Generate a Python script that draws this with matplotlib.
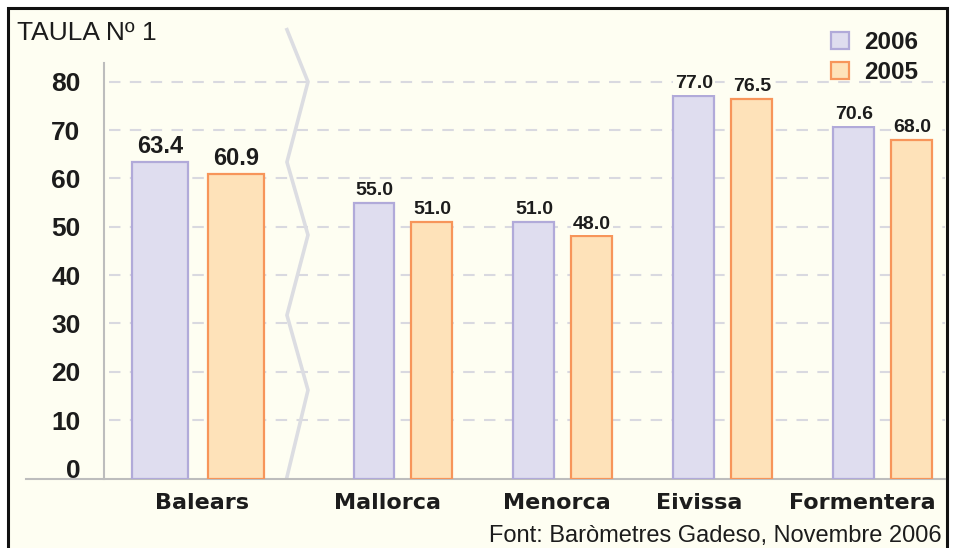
import matplotlib
matplotlib.use('Agg')
import matplotlib.pyplot as plt
import numpy as np
from matplotlib.patches import Rectangle

# dades de la taula
islands = ['Balears', 'Mallorca', 'Menorca', 'Eivissa', 'Formentera']
v2006 = [63.4, 55.0, 51.0, 77.0, 70.6]
v2005 = [60.9, 51.0, 48.0, 76.5, 68.0]
yticks = [0, 10, 20, 30, 40, 50, 60, 70, 80]
series_names = ['2006', '2005']
title = 'TAULA Nº 1'
source = 'Font: Baròmetres Gadeso, Novembre 2006'

bg = '#fefef2'
lav_fill, lav_edge = '#dfddef', '#b1aad9'
org_fill, org_edge = '#fee2b9', '#f7955a'
grid_col = '#d9d9e0'
axis_col = '#bdbdbd'
txt = '#1c1c1c'

plt.rcParams['font.family'] = ['Liberation Sans', 'DejaVu Sans']

W, H = 955, 548
fig = plt.figure(figsize=(W / 100, H / 100), dpi=100, facecolor='white')
fig.add_artist(Rectangle((8 / W, -0.05), 939 / W, (1 - 8 / H) + 0.05,
                         transform=fig.transFigure, facecolor=bg,
                         edgecolor='#111111', lw=2.2, zorder=0))

ax = fig.add_axes([26 / W, (H - 479) / H, (945 - 26) / W, (479 - 63) / H])
ax.set_facecolor('none')
ymin, ymax = -2.2, 83.9
ax.set_ylim(ymin, ymax)
ax.set_xlim(-1.075, 4.669)

idx = np.arange(len(islands))
pos = idx + np.where(idx > 0, 0.281, 0.0)      # trencament despres de Balears
widths = np.where(idx == 0, 0.35, 0.256)
offs = np.where(idx == 0, 0.2375, 0.181)

b1 = ax.bar(pos - offs, np.array(v2006) - ymin, bottom=ymin, width=widths,
            color=lav_fill, edgecolor=lav_edge, lw=1.6, zorder=3)
b2 = ax.bar(pos + offs, np.array(v2005) - ymin, bottom=ymin, width=widths,
            color=org_fill, edgecolor=org_edge, lw=1.6, zorder=3)

for i in idx:
    fs = 17 if i == 0 else 14
    for x, v in ((pos[i] - offs[i], v2006[i]), (pos[i] + offs[i], v2005[i])):
        ax.text(x, v + 0.8, f'{v:.1f}', ha='center', va='bottom', fontsize=fs,
                weight='bold', color=txt, zorder=4,
                bbox=dict(fc=bg, ec='none', pad=1.5))

# eix y i linies de guia
yaxis_x = -0.5875
ax.hlines(yticks[1:], yaxis_x + 0.03, 4.669, colors=grid_col, lw=1.5,
          linestyles=(0, (5.5, 4.5)), zorder=1)
for s in ['top', 'right']:
    ax.spines[s].set_visible(False)
ax.spines['left'].set_position(('data', yaxis_x))
ax.spines['left'].set_color(axis_col)
ax.spines['left'].set_linewidth(1.5)
ax.spines['bottom'].set_color(axis_col)
ax.spines['bottom'].set_linewidth(1.5)

ax.set_yticks(yticks)
ax.set_yticklabels([str(t) for t in yticks], fontsize=19, fontweight='bold', color=txt)
ax.tick_params(axis='y', length=0, pad=17)

shift = np.array([0.025, -0.094, -0.0375, -0.15, -0.131])
ax.set_xticks(pos + shift)
ax.set_xticklabels(islands, fontsize=16, fontweight='bold', color=txt,
                   family='DejaVu Sans')
ax.tick_params(axis='x', length=0, pad=10)

# linia de tall (zig-zag)
zz_x = [0.556, 0.6875, 0.556, 0.6875, 0.556, 0.6875, 0.556]
zz_y = [90.8, 80.0, 63.4, 48.3, 31.7, 16.2, -1.8]
ax.plot(zz_x, zz_y, color='#dcdde2', lw=2.6, zorder=2, clip_on=False,
        solid_joinstyle='miter')

ax.legend([b1, b2], series_names, loc='upper left',
          bbox_to_anchor=(831 / W, 1 - 31 / H), bbox_transform=fig.transFigure,
          frameon=False, prop=dict(weight='bold', size=17.5),
          handlelength=0.75, handleheight=0.7, handletextpad=0.6,
          labelspacing=0.28, borderpad=0, borderaxespad=0, labelcolor=txt)

fig.text(17 / W, 1 - 40 / H, title, fontsize=19, va='baseline', color=txt)
fig.text(942 / W, 1 - 542 / H, source, ha='right', va='baseline', fontsize=17,
         color=txt)

fig.savefig('out.png', dpi=100, facecolor=fig.get_facecolor())
